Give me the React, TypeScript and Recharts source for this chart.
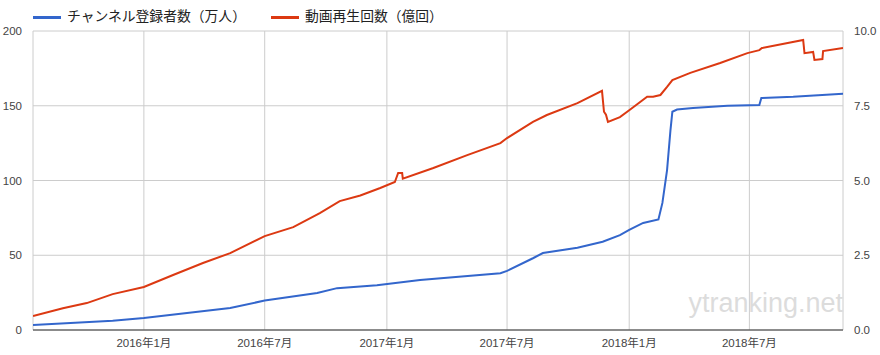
import React from "react";
import { LineChart, Line, XAxis, YAxis, CartesianGrid, Legend } from "recharts";

if (typeof document !== "undefined") {
  document.body.style.margin = "0";
}

const seriesNames = ["チャンネル登録者数（万人）", "動画再生回数（億回）"];

const subsDates = [
  "2015-07-18", "2015-11-15", "2016-01-01", "2016-05-10", "2016-07-01", "2016-09-18",
  "2016-10-18", "2016-12-17", "2017-02-20", "2017-06-21", "2017-07-01", "2017-08-09",
  "2017-08-24", "2017-10-15", "2017-11-22", "2017-12-18", "2018-01-01", "2018-01-22",
  "2018-02-14", "2018-02-20", "2018-02-27", "2018-03-04", "2018-03-07", "2018-03-14",
  "2018-04-07", "2018-05-29", "2018-07-16", "2018-07-19", "2018-09-05", "2018-11-19",
];
const subsValues = [
  3.3, 6.2, 8, 14.7, 19.7, 24.7,
  28, 30, 33.4, 38, 39.5, 48,
  51.5, 55, 59, 63.5, 67, 71.6,
  74, 85, 107, 133, 146, 147.5,
  148.5, 150, 150.5, 155.2, 156, 158,
];

const viewsDates = [
  "2015-07-18", "2015-09-01", "2015-10-07", "2015-11-15", "2016-01-01", "2016-02-14",
  "2016-03-30", "2016-05-10", "2016-07-01", "2016-08-13", "2016-09-22", "2016-10-22",
  "2016-11-22", "2016-12-22", "2017-01-13", "2017-01-18", "2017-01-24", "2017-01-25",
  "2017-03-12", "2017-05-02", "2017-06-21", "2017-07-01", "2017-08-09", "2017-08-30",
  "2017-10-15", "2017-11-21", "2017-11-24", "2017-11-27", "2017-11-30", "2017-12-18",
  "2018-01-01", "2018-01-28", "2018-02-06", "2018-02-17", "2018-02-27", "2018-03-07",
  "2018-04-03", "2018-05-18", "2018-06-28", "2018-07-16", "2018-07-20", "2018-09-20",
  "2018-09-22", "2018-10-05", "2018-10-07", "2018-10-19", "2018-10-20", "2018-11-19",
];
const viewsValues = [
  0.47, 0.73, 0.9, 1.2, 1.44, 1.84,
  2.24, 2.57, 3.14, 3.44, 3.91, 4.31,
  4.5, 4.75, 4.95, 5.25, 5.25, 5.06,
  5.42, 5.85, 6.25, 6.42, 6.96, 7.19,
  7.59, 8.0, 7.3, 7.2, 6.96, 7.12,
  7.35, 7.8, 7.8, 7.86, 8.13, 8.36,
  8.6, 8.93, 9.26, 9.36, 9.43, 9.7,
  9.26, 9.3, 9.03, 9.06, 9.33, 9.43,
];

const xTickDates = ["2016-01-01", "2016-07-01", "2017-01-01", "2017-07-01", "2018-01-01", "2018-07-01"];
const xDomainDates = ["2015-07-18", "2018-11-19"];
const leftTicks = [0, 50, 100, 150, 200];
const rightTicks = [0, 2.5, 5, 7.5, 10];
const watermark = "ytranking.net";

const BLUE = "#3366cc";
const RED = "#dc3912";
const FONT = "Arial, 'Liberation Sans', 'Noto Sans CJK JP', sans-serif";

const toT = (d: string) => Date.parse(d + "T00:00:00Z");

const subsData = subsDates.map((d, i) => ({ t: toT(d), v: subsValues[i] }));
const viewsData = viewsDates.map((d, i) => ({ t: toT(d), v: viewsValues[i] }));
const xTicks = xTickDates.map(toT);
const xDomain = xDomainDates.map(toT);

const fmtDate = (t: number) => {
  const d = new Date(t);
  return `${d.getUTCFullYear()}年${d.getUTCMonth() + 1}月`;
};

const tickStyle = { fill: "#444", fontSize: 11.5, fontFamily: FONT };

const renderLegend = () => (
  <div
    style={{
      display: "flex",
      alignItems: "center",
      fontSize: 13.8,
      lineHeight: "18px",
      color: "#222",
      fontFamily: FONT,
      whiteSpace: "nowrap",
    }}
  >
    <span style={{ display: "inline-block", width: 28, height: 3, background: BLUE, marginRight: 6 }} />
    <span>{seriesNames[0]}</span>
    <span style={{ display: "inline-block", width: 28, height: 3, background: RED, marginLeft: 25, marginRight: 6 }} />
    <span>{seriesNames[1]}</span>
  </div>
);

export default function App() {
  return (
    <div style={{ position: "relative", width: 880, height: 355, fontFamily: FONT }}>
      <LineChart width={880} height={355} margin={{ top: 31, right: 0, bottom: 0, left: 0 }}>
        <CartesianGrid yAxisId="left" stroke="#cccccc" strokeWidth={1} />
        <XAxis
          dataKey="t"
          type="number"
          scale="time"
          domain={xDomain}
          ticks={xTicks}
          tickFormatter={fmtDate}
          allowDataOverflow
          height={25}
          tickSize={0}
          tickMargin={9}
          tick={tickStyle}
          axisLine={{ stroke: "#333", strokeWidth: 1 }}
          tickLine={false}
        />
        <YAxis
          yAxisId="left"
          orientation="left"
          domain={[0, 200]}
          ticks={leftTicks}
          width={33}
          tickSize={0}
          tickMargin={11}
          tick={tickStyle}
          axisLine={false}
          tickLine={false}
        />
        <YAxis
          yAxisId="right"
          orientation="right"
          domain={[0, 10]}
          ticks={rightTicks}
          tickFormatter={(v: number) => v.toFixed(1)}
          width={37}
          tickSize={0}
          tickMargin={11}
          tick={{ ...tickStyle, textAnchor: "start" }}
          axisLine={false}
          tickLine={false}
        />
        <Legend
          verticalAlign="middle"
          layout="horizontal"
          align="center"
          content={renderLegend}
          wrapperStyle={{ top: 8, left: 33, width: "auto", height: "auto" }}
        />
        <Line
          yAxisId="left"
          data={subsData}
          dataKey="v"
          name={seriesNames[0]}
          type="linear"
          stroke={BLUE}
          strokeWidth={2}
          dot={false}
          activeDot={false}
          isAnimationActive={false}
        />
        <Line
          yAxisId="right"
          data={viewsData}
          dataKey="v"
          name={seriesNames[1]}
          type="linear"
          stroke={RED}
          strokeWidth={2}
          dot={false}
          activeDot={false}
          isAnimationActive={false}
        />
      </LineChart>
      <div
        style={{
          position: "absolute",
          right: 37,
          top: 287,
          fontSize: 27,
          lineHeight: "32px",
          color: "#dcdcdc",
          fontFamily: "Arial, 'Liberation Sans', sans-serif",
          pointerEvents: "none",
        }}
      >
        {watermark}
      </div>
    </div>
  );
}
